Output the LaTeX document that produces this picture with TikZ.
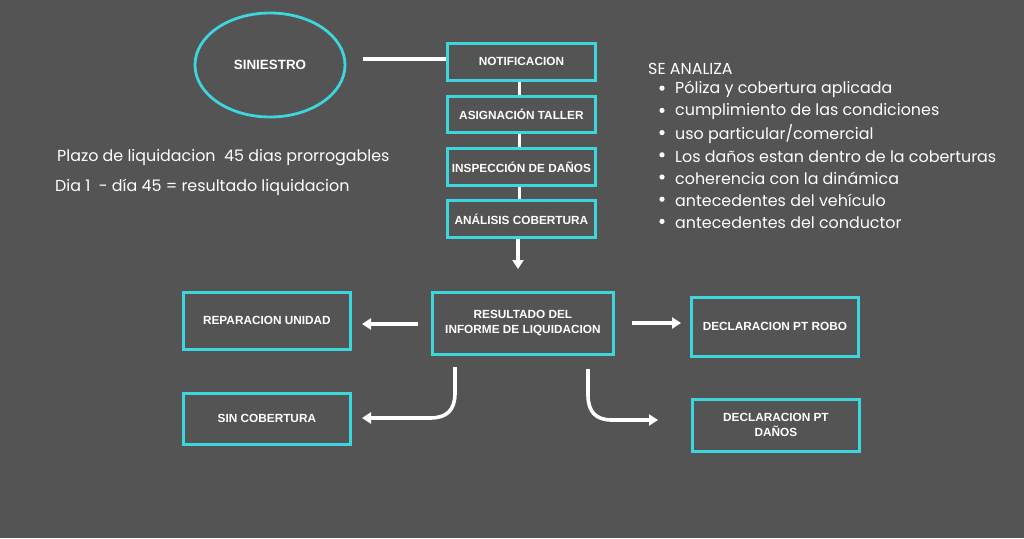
\documentclass[tikz,border=0pt]{standalone}
\usepackage{fontspec}
\setmainfont{Poppins}
\newfontfamily\boxfont{Liberation Sans}
\usetikzlibrary{arrows.meta,shapes.geometric}
\definecolor{bg}{HTML}{545454}
\definecolor{cy}{HTML}{3DD6DF}
\tikzset{
  box/.style={draw=cy, line width=2.8pt, text=white, font=\boxfont\bfseries\fontsize{11.8}{15}\selectfont, align=center, inner sep=0pt, anchor=north west},
  conn/.style={draw=white, line width=3.6pt},
  arr/.style={draw=white, line width=3.6pt, -{Triangle[length=9pt,width=11pt]}},
  txt/.style={text=white, font=\fontsize{15.9}{18}\selectfont, anchor=west, inner sep=0pt},
}
\begin{document}
\begin{tikzpicture}[x=1pt,y=-1pt]
\fill[bg] (0,0) rectangle (1024,538);
\useasboundingbox (0,0) rectangle (1024,538);
\node[draw=cy, line width=2.8pt, ellipse, minimum width=150pt, minimum height=104pt, inner sep=0pt, text=white, font=\boxfont\bfseries\fontsize{13.4}{15}\selectfont] (sin) at (270,65) {SINIESTRO};
\node[box, minimum width=148pt, minimum height=37pt] (n1) at (446,42) {NOTIFICACION};
\node[box, minimum width=148pt, minimum height=36pt] (n2) at (446,95) {ASIGNACIÓN TALLER};
\node[box, minimum width=148pt, minimum height=37pt] (n3) at (446,147) {INSPECCIÓN DE DAÑOS};
\node[box, minimum width=148pt, minimum height=37pt] (n4) at (446,199) {ANÁLISIS COBERTURA};
\node[box, minimum width=181pt, minimum height=62pt] (res) at (431,291) {RESULTADO DEL\\INFORME DE LIQUIDACION};
\node[box, minimum width=167pt, minimum height=57pt] (rep) at (182,291) {REPARACION UNIDAD};
\node[box, minimum width=167pt, minimum height=59pt] (rob) at (690,296) {DECLARACION PT ROBO};
\node[box, minimum width=167pt, minimum height=51pt] (sc) at (182,392) {SIN COBERTURA};
\node[box, minimum width=167pt, minimum height=52pt] (dan) at (691,398) {DECLARACION PT\\DAÑOS};
\coordinate (s1) at (363,59);
\draw[conn] (s1) -- (n1.west |- s1);
\draw[conn] ([xshift=-2pt]n1.south) -- ([xshift=-2pt]n2.north);
\draw[conn] ([xshift=-2pt]n2.south) -- ([xshift=-2pt]n3.north);
\draw[conn] ([xshift=-2pt]n3.south) -- ([xshift=-2pt]n4.north);
\coordinate (a4) at (518,269);
\draw[arr] (a4 |- n4.south) -- (a4);
\coordinate (l1) at (418,324);
\coordinate (l2) at (362,324);
\draw[arr] (l1) -- (l2);
\coordinate (r1) at (632,323);
\coordinate (r2) at (681,323);
\draw[arr] (r1) -- (r2);
\coordinate (c1) at (455,367);
\coordinate (c2) at (362,418);
\draw[arr] (c1) -- (455,393) .. controls (455,410) and (447,418) .. (430,418) -- (c2);
\coordinate (d1) at (588,369);
\coordinate (d2) at (658,420);
\draw[arr] (d1) -- (588,395) .. controls (588,412) and (596,420) .. (612,420) -- (d2);
\node[txt] (t1) at (57,158) {Plazo de liquidacion\ \ 45 dias prorrogables};
\node[txt] (t2) at (55,187) {Dia 1\ \ - día 45 = resultado liquidacion};
\node[txt] (sa) at (648,69) {SE ANALIZA};
\foreach \t [count=\i] in {Póliza y cobertura aplicada, cumplimiento de las condiciones, uso particular/comercial, Los daños estan dentro de la coberturas, coherencia con la dinámica, antecedentes del vehículo, antecedentes del conductor}{
  \fill[white] (662,{66+22.2*\i}) circle (2.6pt);
  \node[txt] (b\i) at (675,{67.5+22.2*\i}) {\t};
}
\end{tikzpicture}
\end{document}
